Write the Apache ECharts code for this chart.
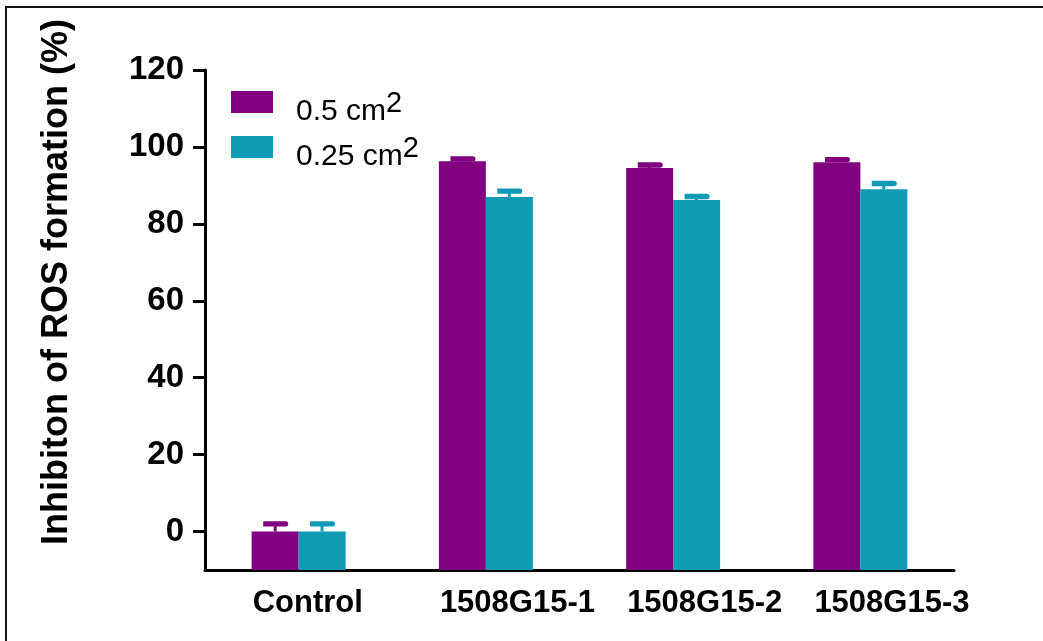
<!DOCTYPE html>
<html>
<head>
<meta charset="utf-8">
<script src="https://cdn.jsdelivr.net/npm/echarts@6/dist/echarts.min.js"></script>
<style>
html,body{margin:0;padding:0;background:#fff;}
#chart{width:1043px;height:641px;}
</style>
</head>
<body>
<div id="chart"></div>
<script>
var categories = ['Control', '1508G15-1', '1508G15-2', '1508G15-3'];
var seriesNames = ['0.5 cm2', '0.25 cm2'];
var values05 = [0, 96.3, 94.5, 96.0];
var errors05 = [2.0, 0.6, 0.8, 0.7];
var values025 = [0, 87.0, 86.2, 89.0];
var errors025 = [2.0, 1.5, 0.9, 1.5];
var yTicks = [0, 20, 40, 60, 80, 100, 120];
var yMin = -10, yMax = 120;

var colors = ['#800080', '#119AB5'];
var FONT = '"Liberation Sans", Arial, sans-serif';

var chart = echarts.init(document.getElementById('chart'));

function errorSeries(vals, errs, idx) {
  var data = vals.map(function (v, i) { return [i, v, errs[i]]; });
  return {
    type: 'custom',
    name: seriesNames[idx],
    z: 3,
    silent: true,
    data: data,
    renderItem: function (params, api) {
      var ci = api.value(0);
      var v = api.value(1);
      var e = api.value(2);
      var band = api.size([1, 0])[0];
      var off = band * 0.125 * (idx === 0 ? -1 : 1);
      var base = api.coord([ci, v]);
      var top = api.coord([ci, v + e]);
      var cx = base[0] + off;
      return {
        type: 'group',
        children: [
          { type: 'line', shape: { x1: cx, y1: base[1], x2: cx, y2: top[1] },
            style: { stroke: colors[idx], lineWidth: 3 } },
          { type: 'rect', shape: { x: cx - 12, y: top[1] - 2.7, width: 25, height: 5.4, r: [0, 2.7, 2.7, 0] },
            style: { fill: colors[idx] } }
        ]
      };
    }
  };
}

function legendFmt(name) {
  return name === seriesNames[0] ? '{a|0.5 cm}{s|2}' : '{a|0.25 cm}{s|2}';
}

chart.setOption({
  animation: false,
  backgroundColor: '#fff',
  textStyle: { fontFamily: FONT },
  graphic: [{
    type: 'rect', silent: true, z: 100,
    shape: { x: 6, y: 7, width: 1100, height: 700 },
    style: { fill: 'none', stroke: '#111', lineWidth: 2 }
  }],
  grid: { left: 205, right: 89, top: 70, bottom: 71, containLabel: false },
  legend: {
    left: 231, top: 81, orient: 'vertical',
    padding: 0, itemWidth: 42, itemHeight: 22, itemGap: -1,
    icon: 'rect',
    data: seriesNames,
    formatter: legendFmt,
    textStyle: {
      color: '#000', padding: [4, 0, 0, 18],
      rich: {
        a: { fontSize: 30, fontFamily: FONT, color: '#000', lineHeight: 29, padding: [16, 0, 0, 0] },
        s: { fontSize: 29, fontFamily: FONT, color: '#000', verticalAlign: 'top', lineHeight: 26 }
      }
    }
  },
  xAxis: {
    type: 'category',
    data: categories,
    axisLine: { onZero: false, lineStyle: { color: '#000', width: 3 } },
    axisTick: { alignWithLabel: true, length: 10, lineStyle: { color: '#000', width: 3 } },
    axisLabel: {
      interval: 0, color: '#000', margin: 18, width: 92, overflow: 'none', align: 'center',
      formatter: function (v) { return '{l|' + v + '}'; },
      rich: { l: { align: 'left', fontWeight: 'bold', fontSize: 31, fontFamily: FONT, color: '#000' } }
    }
  },
  yAxis: {
    type: 'value',
    min: yMin, max: yMax,
    startValue: yMin,
    name: 'Inhibiton of ROS formation (%)',
    nameLocation: 'middle',
    nameGap: 130,
    nameTextStyle: { color: '#000', fontWeight: 'bold', fontSize: 36, fontFamily: FONT, padding: [0, 0, 0, 76] },
    splitLine: { show: false },
    axisLine: { show: true, lineStyle: { color: '#000', width: 3 } },
    axisTick: { show: true, length: 12, customValues: yTicks, lineStyle: { color: '#000', width: 3 } },
    axisLabel: { color: '#000', fontWeight: 'bold', fontSize: 33, margin: 21, customValues: yTicks, fontFamily: FONT }
  },
  series: [
    { type: 'bar', name: seriesNames[0], data: values05, barWidth: 47, barGap: '0%', itemStyle: { color: colors[0] }, z: 2 },
    { type: 'bar', name: seriesNames[1], data: values025, barWidth: 47, barGap: '0%', itemStyle: { color: colors[1] }, z: 2 },
    errorSeries(values05, errors05, 0),
    errorSeries(values025, errors025, 1)
  ]
});
</script>
</body>
</html>
